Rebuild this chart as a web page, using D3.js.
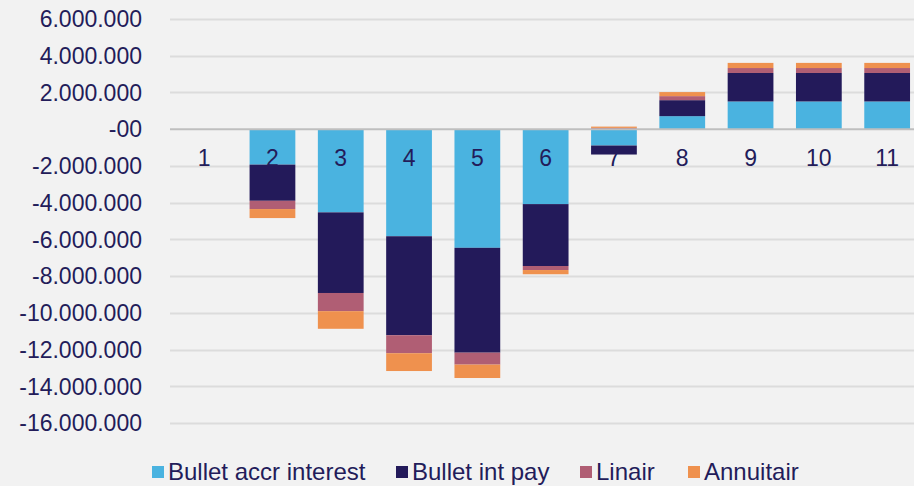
<!DOCTYPE html>
<html>
<head>
<meta charset="utf-8">
<script src="https://cdn.jsdelivr.net/npm/d3@7"></script>
<style>
  body { margin: 0; background: #f2f2f2; }
  svg { display: block; font-family: "Liberation Sans", Arial, sans-serif; }
</style>
</head>
<body>
<div id="chart"></div>
<script>
// stacked bars, negative values go down from zero

const width = 914,
    height = 486,
    margin = ({ top: 19, right: 0, bottom: 63, left: 170 });

const categories = ["1", "2", "3", "4", "5", "6", "7", "8", "9", "10", "11"];
const seriesNames = ["Bullet accr interest", "Bullet int pay", "Linair", "Annuitair"];
const bulletAccr = [0, -1930000, -4530000, -5830000, -6460000, -4080000, -890000, 710000, 1510000, 1510000, 1510000];
const bulletPay = [0, -1970000, -4390000, -5390000, -5710000, -3370000, -490000, 870000, 1550000, 1550000, 1550000];
const linair = [0, -450000, -990000, -980000, -650000, -220000, 70000, 220000, 270000, 270000, 270000];
const annuitair = [0, -490000, -960000, -970000, -730000, -230000, 70000, 220000, 280000, 280000, 280000];
const yTicks = [6000000, 4000000, 2000000, 0, -2000000, -4000000, -6000000, -8000000, -10000000, -12000000, -14000000, -16000000];

const colors = ["#4ab3e0", "#231a5a", "#b05e74", "#ef914e"];
const textColor = "#231c5a";

// table for d3.stack
const data = categories.map((c, i) => ({
    cat: c,
    [seriesNames[0]]: bulletAccr[i],
    [seriesNames[1]]: bulletPay[i],
    [seriesNames[2]]: linair[i],
    [seriesNames[3]]: annuitair[i]
}));

const stacked = d3.stack()
    .keys(seriesNames)
    .offset(d3.stackOffsetDiverging)(data);

const svg = d3.select("#chart")
    .append("svg")
    .attr("width", width)
    .attr("height", height);

const x = d3.scaleBand()
    .domain(categories)
    .range([margin.left, margin.left + 68.3 * categories.length])
    .paddingInner(0.33)
    .paddingOuter(0.165);

const y = d3.scaleLinear()
    .domain([-16000000, 6000000])
    .range([height - margin.bottom, margin.top]);

// dutch number format, plain hyphen as minus
const nl = d3.formatLocale({ decimal: ",", thousands: ".", grouping: [3], currency: ["€", ""], minus: "-" });
const fmt = v => v === 0 ? "-00" : nl.format(",")(v);

// gridlines
svg.append("g")
    .selectAll("line")
    .data(yTicks.filter(d => d !== 0))
    .join("line")
    .attr("x1", margin.left)
    .attr("x2", width)
    .attr("y1", d => Math.round(y(d)) + 0.5)
    .attr("y2", d => Math.round(y(d)) + 0.5)
    .attr("stroke", "#dcdcdc")
    .attr("stroke-width", 2);

// y tick labels
svg.append("g")
    .selectAll("text")
    .data(yTicks)
    .join("text")
    .attr("x", 142)
    .attr("y", d => y(d))
    .attr("dy", "0.36em")
    .attr("text-anchor", "end")
    .attr("fill", textColor)
    .style("font-size", "23px")
    .text(fmt);

// bars
svg.append("g")
    .selectAll("g")
    .data(stacked)
    .join("g")
    .attr("fill", (d, i) => colors[i])
    .selectAll("rect")
    .data(d => d)
    .join("rect")
    .attr("x", d => x(d.data.cat))
    .attr("width", x.bandwidth())
    .attr("y", d => y(Math.max(d[0], d[1])))
    .attr("height", d => Math.abs(y(d[0]) - y(d[1])));

// zero line
svg.append("line")
    .attr("x1", margin.left)
    .attr("x2", width)
    .attr("y1", y(0))
    .attr("y2", y(0))
    .attr("stroke", "#bfbfbf")
    .attr("stroke-width", 2);

// category labels just under the zero line
svg.append("g")
    .selectAll("text")
    .data(categories)
    .join("text")
    .attr("x", d => x(d) + x.bandwidth() / 2)
    .attr("y", y(0) + 37)
    .attr("text-anchor", "middle")
    .attr("fill", textColor)
    .style("font-size", "23px")
    .text(d => d);

// legend
const legendX = [152, 396, 580, 688];
const legend = svg.append("g")
    .selectAll("g")
    .data(seriesNames)
    .join("g")
    .attr("transform", (d, i) => `translate(${legendX[i]},466)`);

legend.append("rect")
    .attr("width", 12)
    .attr("height", 12)
    .attr("fill", (d, i) => colors[i]);

legend.append("text")
    .attr("x", 16)
    .attr("y", 14)
    .attr("fill", textColor)
    .style("font-size", "24px")
    .text(d => d);
</script>
</body>
</html>
